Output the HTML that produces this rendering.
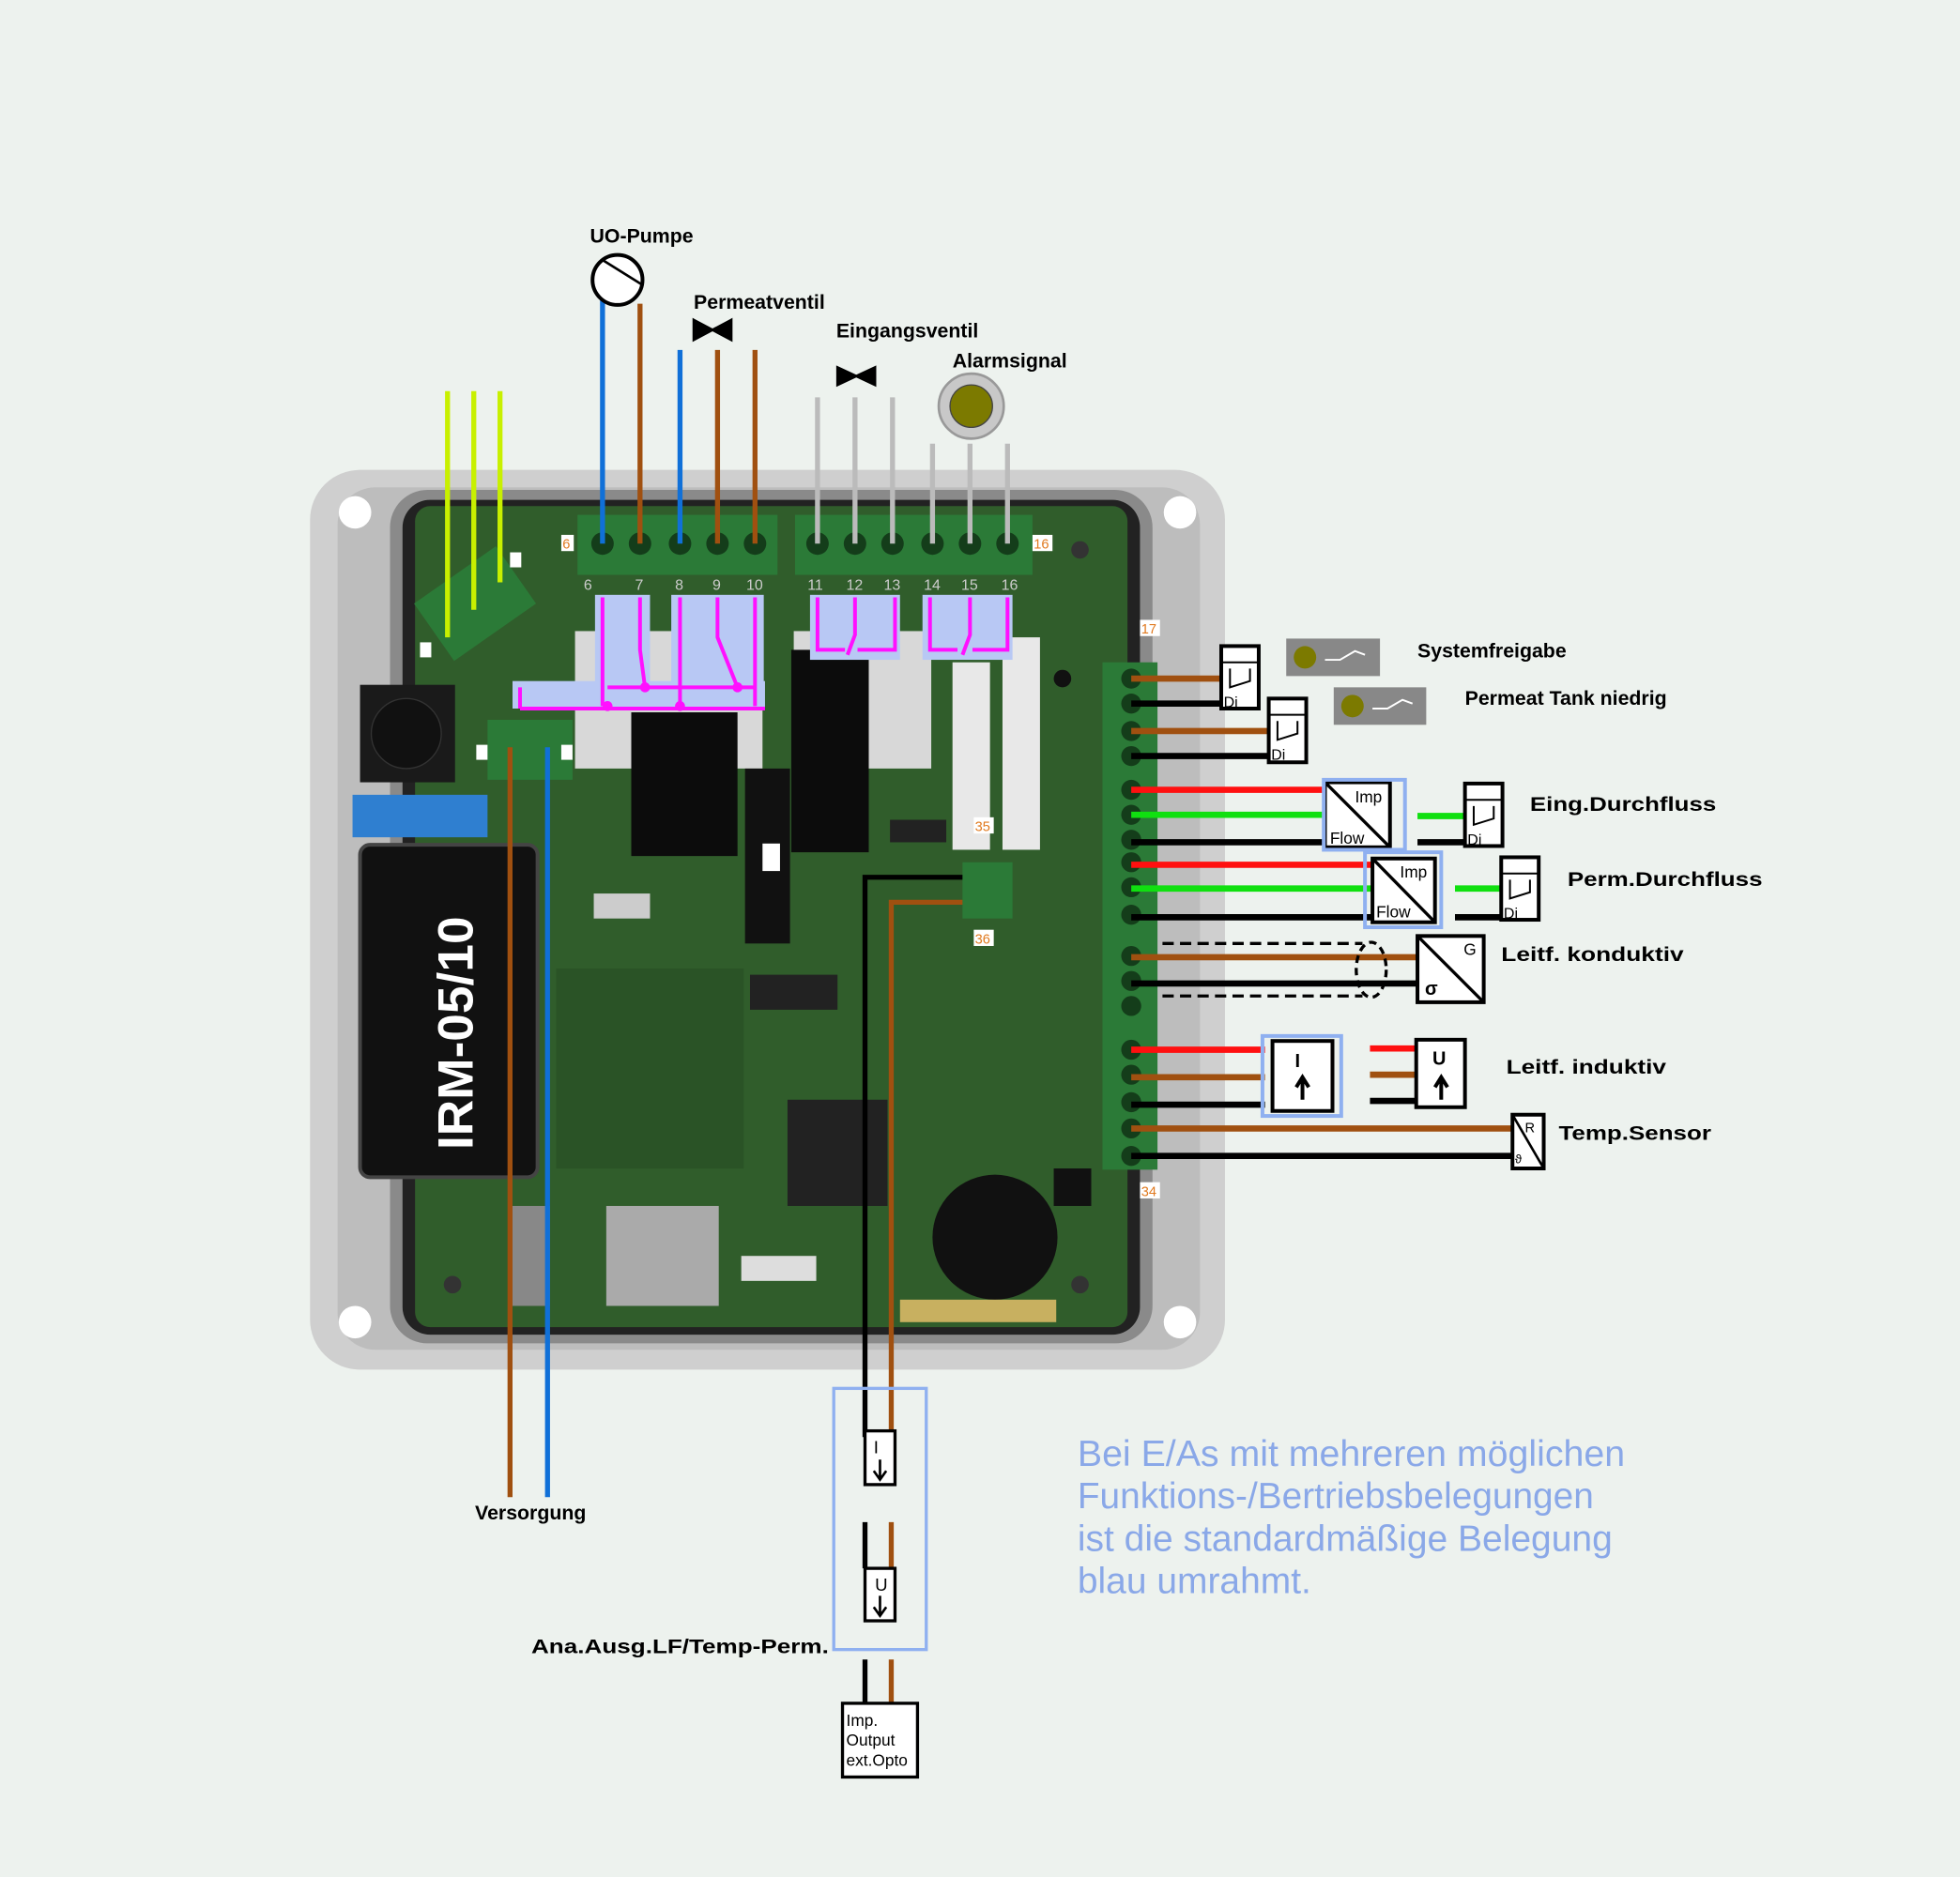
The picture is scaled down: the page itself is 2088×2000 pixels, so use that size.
<!DOCTYPE html>
<html><head><meta charset="utf-8"><style>
html,body{margin:0;padding:0;background:#edf2ee;}
svg{display:block}
text{font-family:"Liberation Sans",sans-serif;}
.lb{font-weight:bold;font-size:16px;fill:#000}
</style></head><body>
<svg width="2088" height="2000" viewBox="0 0 1568 1502" xmlns="http://www.w3.org/2000/svg">
<rect width="1568" height="1502" fill="#edf2ee"/>
<!-- enclosure -->
<rect x="248" y="376" width="732" height="720" rx="40" fill="#cfcfcf"/>
<rect x="270" y="390" width="690" height="690" rx="30" fill="#bdbdbd"/>
<rect x="312" y="392" width="610" height="683" rx="30" fill="#8a8a8a"/>
<circle cx="284" cy="410" r="13" fill="#fff"/><circle cx="944" cy="410" r="13" fill="#fff"/>
<circle cx="284" cy="1058" r="13" fill="#fff"/><circle cx="944" cy="1058" r="13" fill="#fff"/>
<rect x="322" y="400" width="590" height="668" rx="22" fill="#222"/>
<rect x="332" y="405" width="570" height="657" rx="12" fill="#305d2b"/>
<!-- PCB parts -->
<rect x="288" y="548" width="76" height="78" fill="#1a1a1a"/><circle cx="325" cy="587" r="28" fill="#111" stroke="#333"/>
<rect x="282" y="636" width="108" height="34" fill="#2f7fd0"/>
<rect x="288" y="676" width="142" height="266" rx="8" fill="#111" stroke="#444" stroke-width="3"/>
<text x="378" y="920" transform="rotate(-90 378 920)" font-size="40" font-weight="bold" fill="#fff">IRM-05/10</text>
<rect x="460" y="505" width="150" height="110" fill="#d8d8d8"/>
<rect x="505" y="570" width="85" height="115" fill="#0c0c0c"/>
<rect x="635" y="505" width="110" height="110" fill="#d8d8d8"/>
<rect x="633" y="520" width="62" height="162" fill="#0c0c0c"/>
<rect x="596" y="615" width="36" height="140" fill="#111"/><rect x="610" y="675" width="14" height="22" fill="#fff"/>
<rect x="762" y="530" width="30" height="150" fill="#e8e8e8"/><rect x="802" y="510" width="30" height="170" fill="#e8e8e8"/>
<rect x="445" y="775" width="150" height="160" fill="#2a5326"/>
<rect x="600" y="780" width="70" height="28" fill="#222"/>
<rect x="630" y="880" width="80" height="85" fill="#222"/>
<rect x="485" y="965" width="90" height="80" fill="#aaa"/>
<rect x="593" y="1005" width="60" height="20" fill="#ddd"/>
<circle cx="796" cy="990" r="50" fill="#111"/>
<rect x="720" y="1040" width="125" height="18" fill="#c8b060"/>
<rect x="410" y="965" width="30" height="80" fill="#888"/>
<rect x="475" y="715" width="45" height="20" fill="#ccc"/>
<rect x="843" y="935" width="30" height="30" fill="#111"/>
<rect x="712" y="656" width="45" height="18" fill="#222"/>
<circle cx="850" cy="543" r="7" fill="#111"/><circle cx="864" cy="440" r="7" fill="#333"/><circle cx="362" cy="1028" r="7" fill="#333"/><circle cx="864" cy="1028" r="7" fill="#333"/>
<!-- connectors top -->
<rect x="462" y="412" width="160" height="48" fill="#2b7a37"/>
<rect x="636" y="412" width="190" height="48" fill="#2b7a37"/>
<g fill="#143d1a"><circle cx="482" cy="435" r="9"/><circle cx="512" cy="435" r="9"/><circle cx="544" cy="435" r="9"/><circle cx="574" cy="435" r="9"/><circle cx="604" cy="435" r="9"/>
<circle cx="654" cy="435" r="9"/><circle cx="684" cy="435" r="9"/><circle cx="714" cy="435" r="9"/><circle cx="746" cy="435" r="9"/><circle cx="776" cy="435" r="9"/><circle cx="806" cy="435" r="9"/></g>
<g font-size="12" fill="#ccc"><text x="467" y="472">6</text><text x="508" y="472">7</text><text x="540" y="472">8</text><text x="570" y="472">9</text><text x="597" y="472">10</text>
<text x="646" y="472">11</text><text x="677" y="472">12</text><text x="707" y="472">13</text><text x="739" y="472">14</text><text x="769" y="472">15</text><text x="801" y="472">16</text></g>
<rect x="449" y="428" width="10" height="13" fill="#fff"/><text x="450" y="439" font-size="11" fill="#e07a20">6</text>
<rect x="826" y="428" width="16" height="13" fill="#fff"/><text x="827" y="439" font-size="11" fill="#e07a20">16</text>
<rect x="912" y="496" width="16" height="13" fill="#fff"/><text x="913" y="507" font-size="11" fill="#e07a20">17</text>
<rect x="779" y="654" width="16" height="13" fill="#fff"/><text x="780" y="665" font-size="11" fill="#e07a20">35</text>
<rect x="779" y="744" width="16" height="13" fill="#fff"/><text x="780" y="755" font-size="11" fill="#e07a20">36</text>
<rect x="912" y="946" width="16" height="13" fill="#fff"/><text x="913" y="957" font-size="11" fill="#e07a20">34</text>
<!-- PE connector -->
<rect x="340" y="455" width="80" height="56" fill="#2b7a37" transform="rotate(-35 380 483)"/>
<rect x="390" y="576" width="68" height="48" fill="#2b7a37"/>
<rect x="381" y="596" width="9" height="12" fill="#fff"/><rect x="449" y="596" width="9" height="12" fill="#fff"/>
<rect x="336" y="514" width="9" height="12" fill="#fff"/><rect x="408" y="442" width="9" height="12" fill="#fff"/>
<!-- relay overlay -->
<g fill="#b8c8f4"><rect x="476" y="476" width="44" height="90"/><rect x="537" y="476" width="74" height="90"/><rect x="410" y="545" width="202" height="22"/><rect x="648" y="476" width="72" height="52"/><rect x="738" y="476" width="72" height="52"/></g>
<g stroke="#ff10ff" stroke-width="3" fill="none">
<path d="M482 478 V565 M512 478 V520 L516 550 M544 478 V565 M574 478 V510 L590 550 M604 478 V565 M486 550 H604 M416 567 H612 M416 550 V567"/>
<path d="M654 478 V520 H676 M684 478 V508 L678 524 M686 520 H716 V478"/>
<path d="M744 478 V520 H766 M776 478 V508 L770 524 M778 520 H806 V478"/>
</g>
<g fill="#ff10ff"><circle cx="516" cy="550" r="4"/><circle cx="590" cy="550" r="4"/><circle cx="486" cy="565" r="4"/><circle cx="544" cy="565" r="4"/></g>
<!-- top wires -->
<g stroke-width="4">
<line x1="358" y1="313" x2="358" y2="510" stroke="#c8f000"/><line x1="379" y1="313" x2="379" y2="488" stroke="#c8f000"/><line x1="400" y1="313" x2="400" y2="466" stroke="#c8f000"/>
<line x1="482" y1="240" x2="482" y2="435" stroke="#1070d8"/><line x1="512" y1="243" x2="512" y2="435" stroke="#a05010"/>
<line x1="544" y1="280" x2="544" y2="435" stroke="#1070d8"/><line x1="574" y1="280" x2="574" y2="435" stroke="#a05010"/><line x1="604" y1="280" x2="604" y2="435" stroke="#a05010"/>
<line x1="654" y1="318" x2="654" y2="435" stroke="#bbb"/><line x1="684" y1="318" x2="684" y2="435" stroke="#bbb"/><line x1="714" y1="318" x2="714" y2="435" stroke="#bbb"/>
<line x1="746" y1="355" x2="746" y2="435" stroke="#bbb"/><line x1="776" y1="355" x2="776" y2="435" stroke="#bbb"/><line x1="806" y1="355" x2="806" y2="435" stroke="#bbb"/>
<line x1="408" y1="598" x2="408" y2="1198" stroke="#a05010"/><line x1="438" y1="598" x2="438" y2="1198" stroke="#1070d8"/>
<path d="M692 1150 V702 H798" stroke="#000" fill="none"/><path d="M713 1150 V722 H798" stroke="#a05010" fill="none"/>
</g>
<rect x="770" y="690" width="40" height="45" fill="#2b7a37"/>
<!-- symbols top -->
<circle cx="494" cy="224" r="20" fill="#fff" stroke="#000" stroke-width="3"/><path d="M482 208 L514 228" stroke="#000" stroke-width="2"/>
<path d="M555 256 L570 264 L555 272 Z M585 256 L570 264 L585 272 Z" fill="#000" stroke="#000" stroke-width="2"/>
<path d="M670 294 L685 301 L670 308 Z M700 294 L685 301 L700 308 Z" fill="#000" stroke="#000" stroke-width="2"/>
<circle cx="777" cy="325" r="26" fill="#c8c8c8" stroke="#999" stroke-width="2"/><circle cx="777" cy="325" r="17" fill="#7c7a00" stroke="#444"/>
<text x="472" y="194" class="lb">UO-Pumpe</text><text x="555" y="247" class="lb">Permeatventil</text>
<text x="669" y="270" class="lb">Eingangsventil</text><text x="762" y="294" class="lb">Alarmsignal</text>
<!-- right terminal block -->
<rect x="882" y="530" width="44" height="406" fill="#2b7a37"/>
<g fill="#143d1a"><circle cx="905" cy="543" r="8"/><circle cx="905" cy="563" r="8"/><circle cx="905" cy="585" r="8"/><circle cx="905" cy="605" r="8"/><circle cx="905" cy="632" r="8"/><circle cx="905" cy="652" r="8"/><circle cx="905" cy="672" r="8"/><circle cx="905" cy="690" r="8"/><circle cx="905" cy="710" r="8"/><circle cx="905" cy="732" r="8"/><circle cx="905" cy="765" r="8"/><circle cx="905" cy="785" r="8"/><circle cx="905" cy="805" r="8"/><circle cx="905" cy="840" r="8"/><circle cx="905" cy="860" r="8"/><circle cx="905" cy="882" r="8"/><circle cx="905" cy="903" r="8"/><circle cx="905" cy="925" r="8"/></g>
<g stroke-width="5">
<line x1="905" y1="543" x2="976" y2="543" stroke="#a05010"/><line x1="905" y1="563" x2="976" y2="563" stroke="#000"/>
<line x1="905" y1="585" x2="1014" y2="585" stroke="#a05010"/><line x1="905" y1="605" x2="1014" y2="605" stroke="#000"/>
<line x1="905" y1="632" x2="1060" y2="632" stroke="#ff1010"/><line x1="905" y1="652" x2="1060" y2="652" stroke="#10e010"/><line x1="905" y1="674" x2="1060" y2="674" stroke="#000"/>
<line x1="905" y1="692" x2="1097" y2="692" stroke="#ff1010"/><line x1="905" y1="711" x2="1097" y2="711" stroke="#10e010"/><line x1="905" y1="734" x2="1097" y2="734" stroke="#000"/>
<line x1="1134" y1="653" x2="1172" y2="653" stroke="#10e010"/><line x1="1134" y1="674" x2="1172" y2="674" stroke="#000"/>
<line x1="1164" y1="711" x2="1200" y2="711" stroke="#10e010"/><line x1="1164" y1="734" x2="1200" y2="734" stroke="#000"/>
<line x1="905" y1="766" x2="1135" y2="766" stroke="#a05010"/><line x1="905" y1="787" x2="1135" y2="787" stroke="#000"/>
<line x1="905" y1="840" x2="1012" y2="840" stroke="#ff1010"/><line x1="905" y1="862" x2="1012" y2="862" stroke="#a05010"/><line x1="905" y1="884" x2="1012" y2="884" stroke="#000"/>
<line x1="1096" y1="839" x2="1134" y2="839" stroke="#ff1010"/><line x1="1096" y1="860" x2="1134" y2="860" stroke="#a05010"/><line x1="1096" y1="881" x2="1134" y2="881" stroke="#000"/>
<line x1="905" y1="903" x2="1210" y2="903" stroke="#a05010"/><line x1="905" y1="925" x2="1210" y2="925" stroke="#000"/>
</g>
<path d="M930 755 H1090 M930 797 H1090" stroke="#000" stroke-width="2.5" stroke-dasharray="9 5"/>
<ellipse cx="1097" cy="776" rx="12" ry="22" fill="none" stroke="#000" stroke-width="2.5" stroke-dasharray="6 4"/>
<!-- Di boxes -->
<g fill="#fff" stroke="#000" stroke-width="3">
<rect x="977" y="517" width="30" height="50"/>
<rect x="1015" y="559" width="30" height="51"/><rect x="1172" y="627" width="30" height="50"/><rect x="1201" y="686" width="30" height="50"/>
</g>
<g stroke="#000" stroke-width="1.5" fill="none">
<path d="M977 530 H1007 M984 535 V550 L1000 545 V535"/><path d="M1015 572 H1045 M1022 577 V592 L1038 587 V577"/>
<path d="M1172 640 H1202 M1179 645 V660 L1195 655 V645"/><path d="M1201 699 H1231 M1208 704 V719 L1224 714 V704"/>
</g>
<g font-size="12"><text x="979" y="566">Di</text><text x="1017" y="608">Di</text><text x="1174" y="676">Di</text><text x="1203" y="735">Di</text></g>
<!-- lamps -->
<rect x="1029" y="511" width="75" height="30" fill="#888"/><circle cx="1044" cy="526" r="9" fill="#7c7a00"/><path d="M1060 528 L1072 528 L1084 521 L1092 524" stroke="#fff" stroke-width="1.5" fill="none"/>
<rect x="1067" y="550" width="74" height="30" fill="#888"/><circle cx="1082" cy="565" r="9" fill="#7c7a00"/><path d="M1098 567 L1110 567 L1122 560 L1130 563" stroke="#fff" stroke-width="1.5" fill="none"/>
<!-- Imp/Flow boxes -->
<rect x="1092" y="682" width="61" height="60" fill="none" stroke="#8fb0f0" stroke-width="3"/>
<rect x="1060" y="626" width="52" height="52" fill="#fff" stroke="#000" stroke-width="3"/><path d="M1060 626 L1112 678" stroke="#000" stroke-width="2.5"/>
<rect x="1059" y="624" width="65" height="56" fill="none" stroke="#8fb0f0" stroke-width="3"/>
<text x="1084" y="642" font-size="13">Imp</text><text x="1064" y="675" font-size="13">Flow</text>
<rect x="1098" y="687" width="50" height="51" fill="#fff" stroke="#000" stroke-width="3"/><path d="M1098 687 L1148 738" stroke="#000" stroke-width="2.5"/>
<text x="1120" y="702" font-size="13">Imp</text><text x="1101" y="734" font-size="13">Flow</text>
<rect x="1134" y="749" width="53" height="53" fill="#fff" stroke="#000" stroke-width="3"/><path d="M1134 749 L1187 802" stroke="#000" stroke-width="2.5"/>
<text x="1171" y="764" font-size="13">G</text><text x="1140" y="796" font-size="15" font-weight="bold">σ</text>
<!-- I / U -->
<rect x="1010" y="829" width="63" height="64" fill="none" stroke="#8fb0f0" stroke-width="3"/>
<rect x="1018" y="833" width="48" height="56" fill="#fff" stroke="#000" stroke-width="3"/>
<text x="1036" y="854" font-size="15" font-weight="bold">I</text><path d="M1042 880 V864 M1037 870 L1042 862 L1047 870" stroke="#000" stroke-width="3" fill="none"/>
<rect x="1133" y="832" width="39" height="54" fill="#fff" stroke="#000" stroke-width="3"/>
<text x="1146" y="852" font-size="15" font-weight="bold">U</text><path d="M1153 880 V864 M1148 870 L1153 862 L1158 870" stroke="#000" stroke-width="3" fill="none"/>
<rect x="1210" y="892" width="25" height="43" fill="#fff" stroke="#000" stroke-width="3"/><path d="M1210 892 L1235 935" stroke="#000" stroke-width="2"/>
<text x="1220" y="906" font-size="11">R</text><text x="1212" y="931" font-size="10">ϑ</text>
<!-- right labels -->
<text x="1134" y="526" class="lb">Systemfreigabe</text><text x="1172" y="564" class="lb">Permeat Tank niedrig</text>
<text x="1224" y="649" class="lb" font-size="20" textLength="149" lengthAdjust="spacingAndGlyphs">Eing.Durchfluss</text>
<text x="1254" y="709" class="lb" font-size="20" textLength="156" lengthAdjust="spacingAndGlyphs">Perm.Durchfluss</text>
<text x="1201" y="769" class="lb" font-size="20" textLength="146" lengthAdjust="spacingAndGlyphs">Leitf. konduktiv</text>
<text x="1205" y="859" class="lb" font-size="20" textLength="128" lengthAdjust="spacingAndGlyphs">Leitf. induktiv</text>
<text x="1247" y="912" class="lb" font-size="20" textLength="122" lengthAdjust="spacingAndGlyphs">Temp.Sensor</text>
<!-- bottom -->
<text x="380" y="1216" class="lb">Versorgung</text>
<rect x="667" y="1111" width="74" height="209" fill="none" stroke="#8fb0f0" stroke-width="2.5"/>
<rect x="692" y="1145" width="24" height="43" fill="#fff" stroke="#000" stroke-width="2.5"/>
<text x="699" y="1163" font-size="14">I</text><path d="M704 1168 V1183 M699 1177 L704 1184 L709 1177" stroke="#000" stroke-width="2" fill="none"/>
<line x1="692" y1="1218" x2="692" y2="1255" stroke="#000" stroke-width="4"/><line x1="713" y1="1218" x2="713" y2="1255" stroke="#a05010" stroke-width="4"/>
<rect x="692" y="1255" width="24" height="42" fill="#fff" stroke="#000" stroke-width="2.5"/>
<text x="700" y="1273" font-size="14">U</text><path d="M704 1277 V1292 M699 1286 L704 1293 L709 1286" stroke="#000" stroke-width="2" fill="none"/>
<line x1="692" y1="1328" x2="692" y2="1362" stroke="#000" stroke-width="4"/><line x1="713" y1="1328" x2="713" y2="1362" stroke="#a05010" stroke-width="4"/>
<rect x="674" y="1363" width="60" height="59" fill="#fff" stroke="#000" stroke-width="2.5"/>
<text x="677" y="1381" font-size="13">Imp.</text><text x="677" y="1397" font-size="13">Output</text><text x="677" y="1413" font-size="13">ext.Opto</text>
<text x="425" y="1323" class="lb" font-size="19" textLength="238" lengthAdjust="spacingAndGlyphs">Ana.Ausg.LF/Temp-Perm.</text>
<g font-size="29" fill="#8aa8e8"><text x="862" y="1173" textLength="438" lengthAdjust="spacingAndGlyphs">Bei E/As mit mehreren möglichen</text><text x="862" y="1207" textLength="413" lengthAdjust="spacingAndGlyphs">Funktions-/Bertriebsbelegungen</text><text x="862" y="1241" textLength="428" lengthAdjust="spacingAndGlyphs">ist die standardmäßige Belegung</text><text x="862" y="1275" textLength="187" lengthAdjust="spacingAndGlyphs">blau umrahmt.</text></g>
</svg>
</body></html>
